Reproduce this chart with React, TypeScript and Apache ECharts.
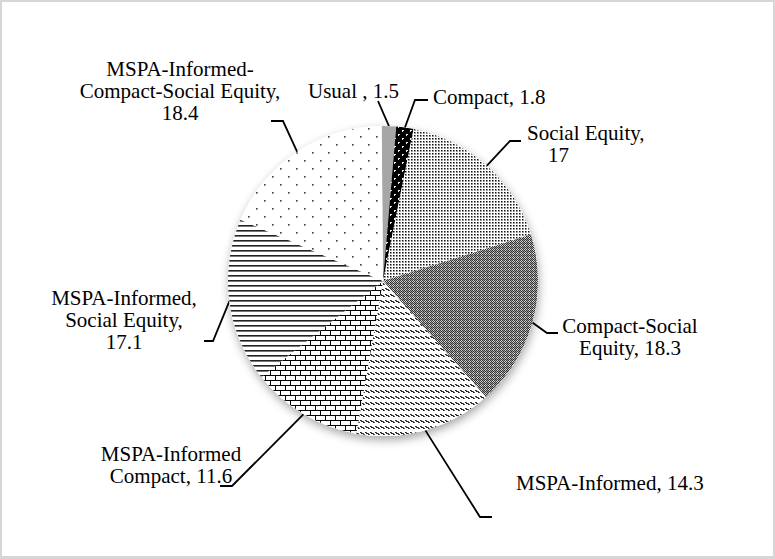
import React, { useEffect, useRef } from "react";
import * as echarts from "echarts";

// ---- data ----
const categories = [
  "Usual",
  "Compact",
  "Social Equity",
  "Compact-Social Equity",
  "MSPA-Informed",
  "MSPA-Informed Compact",
  "MSPA-Informed, Social Equity",
  "MSPA-Informed-Compact-Social Equity",
];
const values = [1.5, 1.8, 17, 18.3, 14.3, 11.6, 17.1, 18.4];
// label text pieces (how each label's name is broken into lines)
const labelNames = [
  "Usual ",
  "Compact",
  "Social Equity",
  "Compact-Social\nEquity",
  "MSPA-Informed",
  "MSPA-Informed\nCompact",
  "MSPA-Informed,\nSocial Equity",
  "MSPA-Informed-\nCompact-Social Equity",
];
const labelSeparators = [", ", ", ", ",\n", ", ", ", ", ", ", ",\n", ",\n"];

// ---- layout (label placement, leader-line bends) ----
const labelPos: { x: number; y: number; align: string }[] = [
  { x: 308, y: 91, align: "left" },
  { x: 433, y: 97, align: "left" },
  { x: 527, y: 144, align: "left" },
  { x: 630, y: 337, align: "center" },
  { x: 516, y: 483, align: "left" },
  { x: 171, y: 465, align: "center" },
  { x: 124, y: 320, align: "center" },
  { x: 180, y: 91, align: "center" },
];
const lineBends: number[][][] = [
  [[378, 101], [378, 101]],
  [[415, 100], [428, 100]],
  [[510, 141], [521, 141]],
  [[547, 333], [558, 333]],
  [[480, 517], [492, 517]],
  [[232, 486], [220, 486]],
  [[213, 341], [204, 341]],
  [[283, 121], [271, 121]],
];

function tile(w: number, h: number, bg: string, draw: (px: (x: number, y: number, c: string) => void) => void) {
  const c = document.createElement("canvas");
  c.width = w;
  c.height = h;
  const ctx = c.getContext("2d")!;
  ctx.fillStyle = bg;
  ctx.fillRect(0, 0, w, h);
  const px = (x: number, y: number, col: string) => {
    ctx.fillStyle = col;
    ctx.fillRect(x, y, 1, 1);
  };
  draw(px);
  return c;
}

function makePatterns() {
  const compact = tile(8, 8, "#000", (p) => {
    p(2, 2, "#fff"); p(3, 2, "#ddd"); p(2, 3, "#ddd");
    p(6, 6, "#fff"); p(7, 6, "#ddd"); p(6, 7, "#ddd");
  });
  const social = tile(3, 3, "#fff", (p) => {
    p(0, 0, "#111"); p(1, 0, "#888"); p(0, 1, "#888"); p(1, 1, "#aaa");
  });
  const compactSocial = tile(4, 4, "#d8d8d8", (p) => {
    for (let y = 0; y < 4; y++)
      for (let x = 0; x < 4; x++) {
        if ((x + y) % 2 === 0) p(x, y, "#333");
        else if (x === 3 || y === 3) p(x, y, "#9a9a9a");
      }
  });
  const mspa = tile(5, 6, "#fff", (p) => {
    p(0, 0, "#222"); p(1, 0, "#555");
    p(1, 1, "#222"); p(2, 1, "#222"); p(3, 1, "#555");
    p(3, 2, "#222"); p(4, 2, "#555");
  });
  const brick = tile(10, 10, "#fff", (p) => {
    for (let x = 0; x < 10; x++) { p(x, 0, "#000"); p(x, 5, "#000"); }
    for (let y = 1; y < 5; y++) p(0, y, "#000");
    for (let y = 6; y < 10; y++) p(5, y, "#000");
  });
  const hlines = tile(4, 5, "#fff", (p) => {
    for (let x = 0; x < 4; x++) { p(x, 0, "#222"); p(x, 1, "#777"); }
  });
  const sparse = tile(16, 16, "#fff", (p) => {
    p(0, 0, "#444"); p(1, 0, "#888"); p(0, 1, "#888"); p(1, 1, "#aaa");
    p(8, 8, "#444"); p(9, 8, "#888"); p(8, 9, "#888"); p(9, 9, "#aaa");
  });
  const pat = (img: HTMLCanvasElement) => ({ image: img, repeat: "repeat" });
  return [
    "#a6a6a6",
    pat(compact),
    pat(social),
    pat(compactSocial),
    pat(mspa),
    pat(brick),
    pat(hlines),
    pat(sparse),
  ];
}

const FONT = "'Liberation Serif', 'Times New Roman', serif";

export default function App() {
  const ref = useRef<HTMLDivElement>(null);
  useEffect(() => {
    if (!ref.current) return;
    const chart = echarts.init(ref.current, undefined, { renderer: "svg" });
    const fills = makePatterns();
    const center = [383, 281];
    const radius = 155;
    chart.setOption({
      animation: false,
      backgroundColor: "#fff",
      series: [
        {
          type: "pie",
          silent: true,
          center,
          radius,
          startAngle: 90.5,
          label: { show: false },
          labelLine: { show: false },
          emphasis: { disabled: true },
          itemStyle: {
            color: "#fff",
            shadowBlur: 10,
            shadowOffsetX: 1,
            shadowOffsetY: 4,
            shadowColor: "rgba(0,0,0,0.35)",
          },
          data: values.map((v, i) => ({ name: categories[i], value: v })),
        },
        {
          type: "pie",
          silent: true,
          center,
          radius,
          startAngle: 90.5,
          avoidLabelOverlap: false,
          emphasis: { disabled: true },
          label: {
            show: true,
            position: "outside",
            fontFamily: FONT,
            fontSize: 21,
            lineHeight: 22,
            color: "#000",
            formatter: (p: any) => {
              const i = p.dataIndex;
              if (i === 2) {
                return `{a|${labelNames[i]},}\n{b|${p.value}}`;
              }
              return labelNames[i] + labelSeparators[i] + p.value;
            },
            rich: {
              a: { fontFamily: FONT, fontSize: 21, lineHeight: 22, color: "#000" },
              b: { fontFamily: FONT, fontSize: 21, lineHeight: 22, color: "#000", padding: [0, 0, 0, 21] },
            },
          },
          labelLine: {
            show: true,
            length: 20,
            length2: 10,
            smooth: false,
            lineStyle: { color: "#000", width: 1.8 },
          },
          labelLayout: (params: any) => {
            const i = params.dataIndex;
            const pos = labelPos[i];
            const start = params.labelLinePoints ? params.labelLinePoints[0] : null;
            const out: any = {
              x: pos.x,
              y: pos.y,
              align: pos.align,
              verticalAlign: "middle",
            };
            if (start) out.labelLinePoints = [start, lineBends[i][0], lineBends[i][1]];
            return out;
          },
          itemStyle: { borderWidth: 0 },
          data: values.map((v, i) => ({
            name: categories[i],
            value: v,
            itemStyle: { color: fills[i] },
          })),
        },
      ],
    });
    return () => chart.dispose();
  }, []);
  return (
    <div style={{ position: "fixed", left: 0, top: 0, width: 775, height: 559, background: "#fff" }}>
      <div ref={ref} style={{ position: "absolute", left: 0, top: 0, width: 775, height: 559 }} />
      <div
        style={{
          position: "absolute",
          left: 0,
          top: 0,
          width: 775,
          height: 559,
          boxSizing: "border-box",
          borderStyle: "solid",
          borderColor: "#d6d6d6",
          borderWidth: "2px 2px 3px 2px",
          pointerEvents: "none",
        }}
      />
    </div>
  );
}
